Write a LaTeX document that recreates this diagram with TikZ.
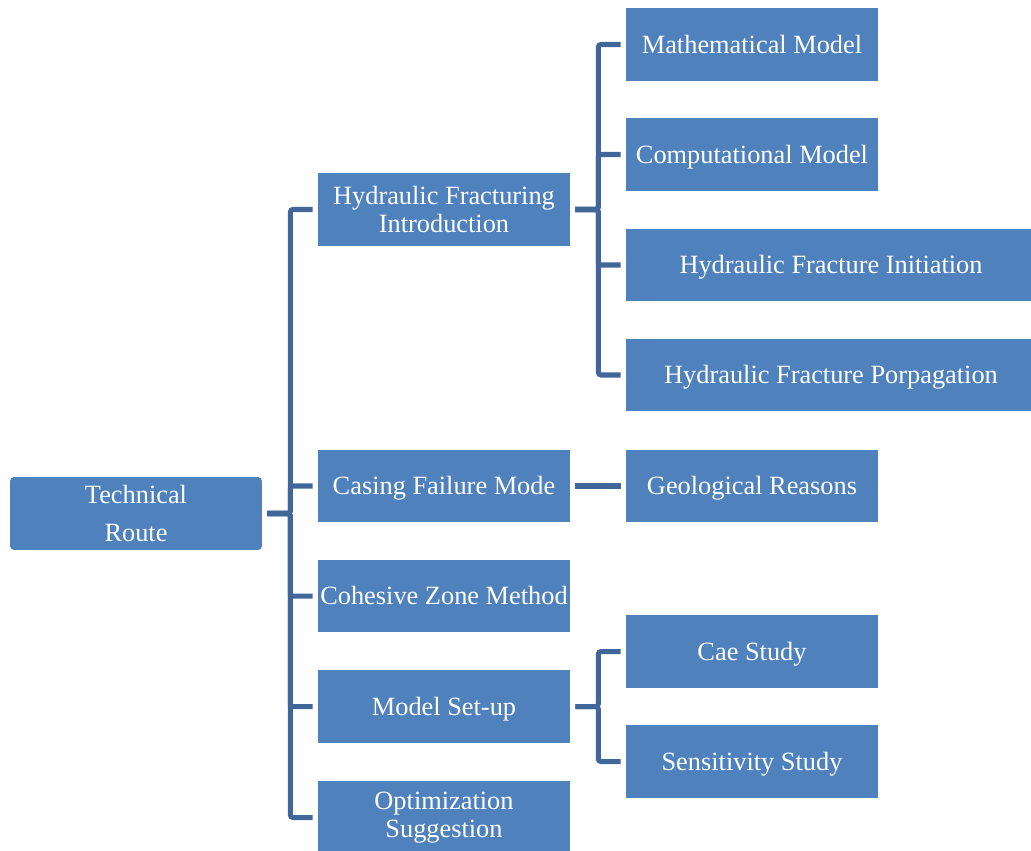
\documentclass[tikz,border=0pt]{standalone}
\usepackage{fontspec}
\setmainfont{Liberation Serif}
\usepackage{tikz}

\definecolor{boxblue}{HTML}{4F81BD}
\definecolor{linkblue}{HTML}{41679A}

\tikzset{
   topic/.style={rectangle,fill=boxblue,text=white,inner sep=0pt,align=center,
      minimum width=5.04cm,minimum height=1.46cm,font=\fontsize{15}{16}\selectfont},
   oneline/.style={topic,text height=9.8pt,text depth=0pt},
   widetopic/.style={oneline,minimum width=8.2cm},
   link/.style={linkblue,line width=2.85pt,rounded corners=1.5pt,
      shorten <=0.1cm,shorten >=0.1cm}
}

\begin{document}
\begin{tikzpicture}[x=0.02cm,y=-0.02cm]

   \useasboundingbox (0,0) rectangle (1031,851);

   \node[topic,rounded corners=0.08cm,font=\fontsize{15}{21.6}\selectfont] (route) at (136,513.5) {Technical\\Route};

   \node[topic] (hfi) at (444,209.5) {Hydraulic Fracturing\\Introduction};
   \node[oneline] (cfm) at (444,486) {Casing Failure Mode};
   \node[oneline] (czm) at (444,596) {Cohesive Zone Method};
   \node[oneline] (msu) at (444,706.5) {Model Set-up};
   \node[topic] (opt) at (444,817.5) {Optimization\\Suggestion};

   \node[oneline] (math) at (752,44.5) {Mathematical Model};
   \node[oneline] (comp) at (752,154.5) {Computational Model};
   \node[widetopic] (init) at (831,265) {Hydraulic Fracture Initiation};
   \node[widetopic] (prop) at (831,375) {Hydraulic Fracture Porpagation};
   \node[oneline] (geo) at (752,486) {Geological Reasons};
   \node[oneline] (cae) at (752,651.5) {Cae Study};
   \node[oneline] (sens) at (752,761.5) {Sensitivity Study};

   \foreach \c in {hfi,cfm,czm,msu,opt} {
      \draw[link] (route.east) -- ++(28,0) |- (\c.west);
   }
   \foreach \c in {math,comp,init,prop} {
      \draw[link] (hfi.east) -- ++(28,0) |- (\c.west);
   }
   \foreach \c in {cae,sens} {
      \draw[link] (msu.east) -- ++(28,0) |- (\c.west);
   }
   \draw[link] (cfm.east) -- (geo.west);

\end{tikzpicture}
\end{document}
